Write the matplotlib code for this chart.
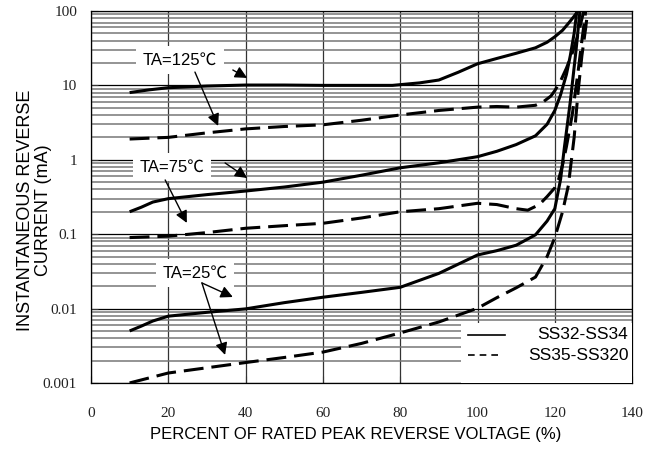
import matplotlib
matplotlib.use('Agg')
import matplotlib.pyplot as plt
from matplotlib.lines import Line2D
from matplotlib.patches import Rectangle
import numpy as np

# reverse current curves, x = % of rated peak reverse voltage, y = mA
x_125_a = [10, 15, 20, 30, 40, 50, 60, 70, 78, 85, 90, 95, 100, 105, 110, 115, 118, 120, 122, 123.5, 125, 126]
y_125_a = [8.0, 8.7, 9.3, 9.8, 10.1, 10.1, 10.0, 10.0, 10.0, 10.8, 11.8, 15, 19.5, 23, 27, 32, 38, 45, 55, 68, 85, 100]

x_125_b = [10, 15, 20, 30, 40, 50, 60, 70, 80, 90, 100, 105, 110, 115, 117, 119, 120, 121.5, 123, 124.5, 126, 127.5]
y_125_b = [1.9, 1.95, 2.0, 2.3, 2.6, 2.8, 2.95, 3.4, 4.0, 4.6, 5.1, 5.2, 5.1, 5.4, 6.0, 7.2, 8.5, 11.5, 17, 27, 48, 100]

x_75_a = [10, 13, 16, 20, 30, 40, 50, 60, 70, 80, 90, 100, 105, 110, 115, 118, 120, 121.5, 123, 124, 125, 125.7]
y_75_a = [0.2, 0.23, 0.27, 0.3, 0.34, 0.38, 0.43, 0.50, 0.62, 0.78, 0.91, 1.1, 1.3, 1.6, 2.1, 3.0, 4.6, 7.5, 14, 25, 50, 100]

x_75_b = [10, 20, 30, 40, 50, 60, 70, 80, 90, 100, 105, 110, 113, 116, 118, 120, 121, 122, 123, 124.5, 126, 127, 128]
y_75_b = [0.09, 0.094, 0.105, 0.12, 0.13, 0.14, 0.165, 0.2, 0.22, 0.26, 0.25, 0.22, 0.21, 0.25, 0.32, 0.42, 0.55, 0.85, 1.5, 4, 15, 40, 100]

x_25_a = [10, 13, 16, 20, 30, 40, 50, 60, 70, 80, 90, 100, 105, 110, 115, 118, 120, 121.5, 122.5, 124, 125.5, 126.5]
y_25_a = [0.005, 0.0058, 0.0068, 0.0079, 0.0089, 0.0099, 0.012, 0.0142, 0.0165, 0.0193, 0.0297, 0.0525, 0.06, 0.071,
          0.098, 0.15, 0.22, 0.55, 1.5, 6, 30, 100]

x_25_b = [10, 20, 30, 40, 50, 60, 70, 80, 90, 100, 105, 110, 115, 118, 120, 122, 123.5, 125, 126, 127, 128, 128.5]
y_25_b = [0.001, 0.00136, 0.0016, 0.00188, 0.0022, 0.0026, 0.0034, 0.0047, 0.0066, 0.0101, 0.014, 0.019, 0.0265,
          0.05, 0.09, 0.2, 0.45, 2, 8, 25, 60, 100]

x_ticks = [0, 20, 40, 60, 80, 100, 120, 140]
y_ticks = [0.001, 0.01, 0.1, 1, 10, 100]
y_tick_labels = ['0.001', '0.01', '0.1', '1', '10', '100']
series_names = ['SS32-SS34', 'SS35-SS320']

sans = ['Liberation Sans', 'Noto Sans CJK SC']
serif = 'Liberation Serif'

fig = plt.figure(figsize=(6.64, 4.5), dpi=100)
ax = fig.add_axes([0.137, 0.149, 0.815, 0.8266])
ax.set_yscale('log')
ax.set_xlim(0, 140)
ax.set_ylim(0.001, 100)

# grid: black on decades, grey on the 2..9 lines
ax.set_xticks(x_ticks)
ax.set_yticks(y_ticks)
ax.set_yticklabels(y_tick_labels)
ax.set_xticklabels([str(v) for v in x_ticks])
ax.yaxis.set_minor_locator(matplotlib.ticker.LogLocator(base=10, subs=np.arange(2, 10)))
ax.yaxis.set_minor_formatter(matplotlib.ticker.NullFormatter())
ax.grid(True, which='major', axis='y', color='black', lw=0.9, zorder=0)
ax.grid(True, which='minor', axis='y', color='#777777', lw=1.1, zorder=0)
ax.grid(True, which='major', axis='x', color='#333333', lw=0.9, zorder=0)
ax.set_axisbelow(True)
ax.tick_params(which='both', direction='in', length=5, width=0.8, color='#333333')
ax.tick_params(which='minor', length=0)
ax.tick_params(axis='y', pad=10, labelsize=11)
ax.tick_params(axis='x', pad=17, labelsize=11)
for lbl in ax.get_xticklabels() + ax.get_yticklabels():
    lbl.set_fontfamily(serif)
    lbl.set_color('#222222')
for sp in ax.spines.values():
    sp.set_linewidth(0.9)

dash = (6.5, 2.6)
for xs, ys in [(x_125_a, y_125_a), (x_75_a, y_75_a), (x_25_a, y_25_a)]:
    ax.plot(xs, ys, color='black', lw=2.2, solid_capstyle='butt', zorder=4)
for xs, ys in [(x_125_b, y_125_b), (x_75_b, y_75_b), (x_25_b, y_25_b)]:
    ax.plot(xs, ys, color='black', lw=2.2, dashes=dash, dash_capstyle='butt', zorder=4)

# temperature labels with arrows
box = dict(boxstyle='square,pad=0.4', fc='white', ec='none')
arrow = dict(arrowstyle='-|>', color='black', lw=1.0, mutation_scale=18, shrinkA=0, shrinkB=0)

def temp_label(txt, xy, arrows):
    ax.text(xy[0], xy[1], txt, ha='center', va='center', fontsize=12, family=sans, bbox=box, zorder=3)
    for start, end in arrows:
        ax.annotate('', xy=end, xytext=start, arrowprops=arrow, zorder=5)

temp_label('TA=125℃', (23, 21.9), [((36.7, 16.1), (40.4, 12.6)), ((26.9, 15.1), (32.9, 2.85))])
temp_label('TA=75℃', (21, 0.80), [((34.7, 0.906), (40.4, 0.569)), ((19.2, 0.535), (24.8, 0.1416))])
temp_label('TA=25℃', (26.9, 0.0301), [((28.7, 0.0221), (36.7, 0.0143)), ((28.7, 0.0221), (34.7, 0.00238))])

# legend drawn in axes coordinates
ax.add_patch(Rectangle((0.683, 0.0), 0.317, 0.162, transform=ax.transAxes, fc='white', ec='none', zorder=3))
ax.add_line(Line2D([0.696, 0.766], [0.129, 0.129], transform=ax.transAxes, color='black', lw=1.2, zorder=4))
ax.add_line(Line2D([0.696, 0.756], [0.075, 0.075], transform=ax.transAxes, color='black', lw=1.2,
                   dashes=(4, 3), zorder=4))
ax.text(0.993, 0.129, series_names[0], transform=ax.transAxes, ha='right', va='center', fontsize=12.5,
        family=sans, zorder=4)
ax.text(0.993, 0.075, series_names[1], transform=ax.transAxes, ha='right', va='center', fontsize=12.5,
        family=sans, zorder=4)

ax.set_xlabel('PERCENT OF RATED PEAK REVERSE VOLTAGE (%)', fontsize=12, family=sans)
ax.set_ylabel('INSTANTANEOUS REVERSE\nCURRENT (mA)', fontsize=13, family=sans, linespacing=1.05)
ax.xaxis.set_label_coords(0.49, -0.118)
ax.yaxis.set_label_coords(-0.072, 0.465)

fig.savefig('out.png', dpi=100)
